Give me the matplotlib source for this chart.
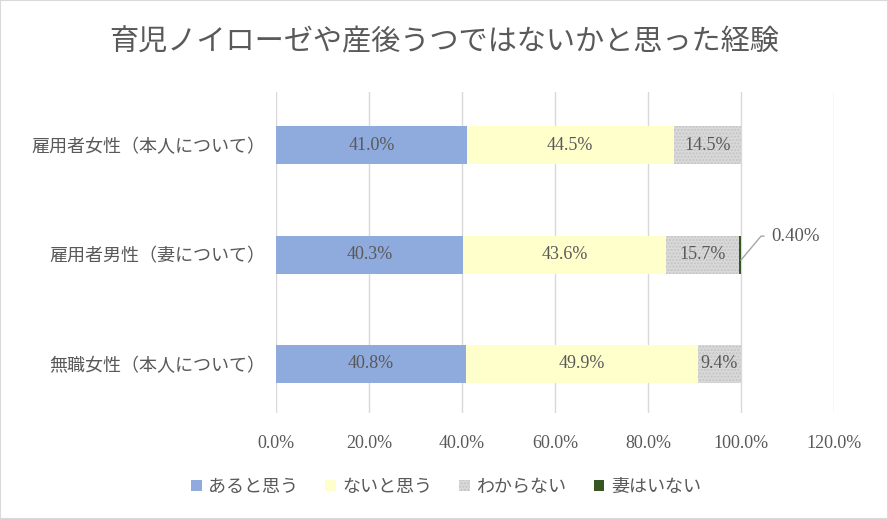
import numpy as np
import matplotlib.pyplot as plt
from matplotlib.patches import Rectangle

plt.rcParams['font.family'] = ['Noto Sans CJK JP', 'DejaVu Sans']

categories = ['雇用者女性（本人について）', '雇用者男性（妻について）', '無職女性（本人について）']
series_names = ['あると思う', 'ないと思う', 'わからない', '妻はいない']
aru = [41.0, 40.3, 40.8]
nai = [44.5, 43.6, 49.9]
wakaranai = [14.5, 15.7, 9.4]
tsuma_nai = [0.0, 0.4, 0.0]
xticks = [0, 20, 40, 60, 80, 100, 120]

colors = ['#8FAADC', '#FFFFCC', '#D9D9D9', '#375623']
text_color = '#595959'
serif = ['Liberation Serif', 'DejaVu Serif']

fig = plt.figure(figsize=(8.88, 5.19), dpi=100)
ax = fig.add_axes([0.311, 0.204, 0.628, 0.619])

y = np.arange(len(categories))[::-1]
data = [aru, nai, wakaranai, tsuma_nai]
left = np.zeros(len(categories))
bar_h = 0.348
for i, vals in enumerate(data):
    vals = np.array(vals)
    if i == 2:
        ax.barh(y, vals, left=left, height=bar_h, color=colors[i],
                edgecolor='#C4C4C4', hatch='.....', linewidth=0, zorder=3)
    else:
        ax.barh(y, vals, left=left, height=bar_h, color=colors[i],
                linewidth=0, zorder=3)
    if i < 3:
        for yy, l, v in zip(y, left, vals):
            ax.text(l + v / 2, yy, f'{v:.1f}%', ha='center', va='center',
                    fontsize=13, color=text_color, zorder=4, family=serif)
    left = left + vals

# 0.40% label with leader line
idx = 1
ax.annotate(f'{tsuma_nai[idx]:.2f}%', xy=(left[idx], y[idx] - 0.05),
            xytext=(left[idx] + 6.5, y[idx] + 0.17),
            ha='left', va='center', fontsize=13.5, color=text_color, family=serif,
            arrowprops=dict(arrowstyle='-', color='#A6A6A6', lw=1,
                            connectionstyle='angle,angleA=0,angleB=50,rad=0',
                            shrinkA=3, shrinkB=0))

ax.set_xlim(0, 120)
ax.set_ylim(-0.45, 2.49)
ax.set_xticks(xticks)
ax.set_xticklabels([f'{t:.1f}%' for t in xticks], fontsize=13, color=text_color,
                   family=serif)
ax.set_yticks(y)
ax.set_yticklabels(categories, fontsize=13, color=text_color)
ax.tick_params(axis='y', length=0, pad=8)
ax.tick_params(axis='x', length=0, pad=16)
ax.grid(axis='x', color='#D9D9D9', lw=1, zorder=0)
for s in ax.spines.values():
    s.set_visible(False)

fig.text(0.5, 0.919, '育児ノイローゼや産後うつではないかと思った経験', ha='center',
         va='center', fontsize=21, color=text_color)

# legend
handles = []
for i, n in enumerate(series_names):
    handles.append(Rectangle((0, 0), 1, 1, facecolor=colors[i],
                             hatch='.....' if i == 2 else None,
                             edgecolor='#C4C4C4' if i == 2 else colors[i], lw=0))
leg = fig.legend(handles, series_names, loc='center', bbox_to_anchor=(0.502, 0.062),
                 ncol=4, frameon=False, fontsize=13, handlelength=0.6,
                 handleheight=0.6, handletextpad=0.35, columnspacing=1.5)
for t in leg.get_texts():
    t.set_color(text_color)

fig.patches.append(Rectangle((0, 0), 1, 1, transform=fig.transFigure,
                             fill=False, edgecolor='#D9D9D9', lw=1.5))
fig.savefig('out.png', dpi=100)
